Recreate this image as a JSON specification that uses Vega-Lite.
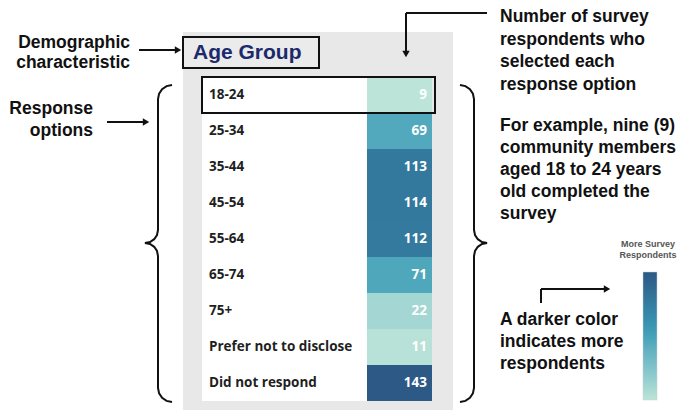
{
  "$schema": "https://vega.github.io/schema/vega-lite/v6.json",
  "width": 681,
  "height": 410,
  "padding": 0,
  "autosize": {"type": "none"},
  "background": "white",
  "config": {
    "view": {"stroke": null},
    "axis": {"disable": true},
    "text": {"font": "Liberation Sans", "fontWeight": "bold", "fontSize": 17.5, "color": "#111111"}
  },
  "datasets": {
    "ages": [
      {"group": "18-24", "respondents": 9},
      {"group": "25-34", "respondents": 69},
      {"group": "35-44", "respondents": 113},
      {"group": "45-54", "respondents": 114},
      {"group": "55-64", "respondents": 112},
      {"group": "65-74", "respondents": 71},
      {"group": "75+", "respondents": 22},
      {"group": "Prefer not to disclose", "respondents": 11},
      {"group": "Did not respond", "respondents": 143}
    ],
    "braces": [
      {"side": "left", "k": 0, "bx": 172, "by": 85},
      {"side": "left", "k": 1, "bx": 166.6, "by": 86.1},
      {"side": "left", "k": 2, "bx": 162.1, "by": 89.1},
      {"side": "left", "k": 3, "bx": 159.1, "by": 93.6},
      {"side": "left", "k": 4, "bx": 158, "by": 99},
      {"side": "left", "k": 5, "bx": 158, "by": 230},
      {"side": "left", "k": 6, "bx": 157, "by": 235},
      {"side": "left", "k": 7, "bx": 154.2, "by": 239.2},
      {"side": "left", "k": 8, "bx": 150, "by": 242},
      {"side": "left", "k": 9, "bx": 145, "by": 243},
      {"side": "left", "k": 10, "bx": 150, "by": 244},
      {"side": "left", "k": 11, "bx": 154.2, "by": 246.8},
      {"side": "left", "k": 12, "bx": 157, "by": 251},
      {"side": "left", "k": 13, "bx": 158, "by": 256},
      {"side": "left", "k": 14, "bx": 158, "by": 388},
      {"side": "left", "k": 15, "bx": 159.1, "by": 393.4},
      {"side": "left", "k": 16, "bx": 162.1, "by": 397.9},
      {"side": "left", "k": 17, "bx": 166.6, "by": 400.9},
      {"side": "left", "k": 18, "bx": 172, "by": 402},
      {"side": "right", "k": 0, "bx": 460, "by": 85},
      {"side": "right", "k": 1, "bx": 465.4, "by": 86.1},
      {"side": "right", "k": 2, "bx": 469.9, "by": 89.1},
      {"side": "right", "k": 3, "bx": 472.9, "by": 93.6},
      {"side": "right", "k": 4, "bx": 474, "by": 99},
      {"side": "right", "k": 5, "bx": 474, "by": 230},
      {"side": "right", "k": 6, "bx": 475, "by": 235},
      {"side": "right", "k": 7, "bx": 477.8, "by": 239.2},
      {"side": "right", "k": 8, "bx": 482, "by": 242},
      {"side": "right", "k": 9, "bx": 487, "by": 243},
      {"side": "right", "k": 10, "bx": 482, "by": 244},
      {"side": "right", "k": 11, "bx": 477.8, "by": 246.8},
      {"side": "right", "k": 12, "bx": 475, "by": 251},
      {"side": "right", "k": 13, "bx": 474, "by": 256},
      {"side": "right", "k": 14, "bx": 474, "by": 388},
      {"side": "right", "k": 15, "bx": 472.9, "by": 393.4},
      {"side": "right", "k": 16, "bx": 469.9, "by": 397.9},
      {"side": "right", "k": 17, "bx": 465.4, "by": 400.9},
      {"side": "right", "k": 18, "bx": 460, "by": 402}
    ]
  },
  "resolve": {"scale": {"y": "independent"}},
  "layer": [
    {
      "description": "Canvas layer: grey panel, heading box and callouts",
      "layer": [
        {
          "data": {"values": [{}]},
          "mark": {"type": "rect", "fill": "#e8e8e8"},
          "encoding": {
            "x": {"datum": 183, "type": "quantitative", "scale": {"domain": [0, 681], "range": [0, 681], "nice": false, "zero": false}},
            "x2": {"datum": 453},
            "y": {"datum": 32, "type": "quantitative", "scale": {"domain": [0, 410], "range": [0, 410], "nice": false, "zero": false}},
            "y2": {"datum": 410}
          }
        },
        {
          "data": {"values": [{}]},
          "mark": {"type": "rect", "fill": "#ebebeb", "stroke": "#111111", "strokeWidth": 2},
          "encoding": {
            "x": {"datum": 183, "type": "quantitative"},
            "x2": {"datum": 319},
            "y": {"datum": 37, "type": "quantitative"},
            "y2": {"datum": 68}
          }
        },
        {
          "data": {"values": [{}]},
          "mark": {"type": "text", "text": "Age Group", "align": "left", "baseline": "middle", "fontSize": 21, "color": "#1b2a6b"},
          "encoding": {
            "x": {"datum": 193, "type": "quantitative"},
            "y": {"datum": 53, "type": "quantitative"}
          }
        },
        {
          "data": {"values": [{}]},
          "mark": {"type": "text", "text": ["Demographic", "characteristic"], "align": "right", "baseline": "middle", "lineHeight": 20},
          "encoding": {
            "x": {"datum": 130, "type": "quantitative"},
            "y": {"datum": 43, "type": "quantitative"}
          }
        },
        {
          "data": {"values": [{}]},
          "mark": {"type": "text", "text": ["Response", "options"], "align": "right", "baseline": "middle", "lineHeight": 22},
          "encoding": {
            "x": {"datum": 93, "type": "quantitative"},
            "y": {"datum": 109, "type": "quantitative"}
          }
        },
        {
          "data": {"values": [{}]},
          "mark": {"type": "text", "text": ["Number of survey", "respondents who", "selected each", "response option"], "align": "left", "baseline": "middle", "lineHeight": 22.5},
          "encoding": {
            "x": {"datum": 500, "type": "quantitative"},
            "y": {"datum": 17, "type": "quantitative"}
          }
        },
        {
          "data": {"values": [{}]},
          "mark": {"type": "text", "text": ["For example, nine (9)", "community members", "aged 18 to 24 years", "old completed the", "survey"], "align": "left", "baseline": "middle", "lineHeight": 22},
          "encoding": {
            "x": {"datum": 500, "type": "quantitative"},
            "y": {"datum": 126, "type": "quantitative"}
          }
        },
        {
          "data": {"values": [{}]},
          "mark": {"type": "text", "text": ["A darker color", "indicates more", "respondents"], "align": "left", "baseline": "middle", "lineHeight": 22},
          "encoding": {
            "x": {"datum": 500, "type": "quantitative"},
            "y": {"datum": 320, "type": "quantitative"}
          }
        },
        {
          "data": {"values": [{}]},
          "mark": {"type": "text", "text": ["More Survey", "Respondents"], "align": "center", "baseline": "middle", "lineHeight": 11, "fontSize": 9, "color": "#555555"},
          "encoding": {
            "x": {"datum": 648, "type": "quantitative"},
            "y": {"datum": 244, "type": "quantitative"}
          }
        },
        {
          "data": {"values": [
            {"from_x": 139, "to_x": 175, "from_y": 50, "to_y": 50},
            {"from_x": 107, "to_x": 143, "from_y": 122, "to_y": 122},
            {"from_x": 406, "to_x": 487, "from_y": 13, "to_y": 13},
            {"from_x": 406, "to_x": 406, "from_y": 13, "to_y": 51},
            {"from_x": 541, "to_x": 541, "from_y": 289, "to_y": 303},
            {"from_x": 541, "to_x": 604, "from_y": 289, "to_y": 289}
          ]},
          "mark": {"type": "rule", "stroke": "#111111", "strokeWidth": 2},
          "encoding": {
            "x": {"field": "from_x", "type": "quantitative"},
            "x2": {"field": "to_x"},
            "y": {"field": "from_y", "type": "quantitative"},
            "y2": {"field": "to_y"}
          }
        },
        {
          "data": {"values": [
            {"hx": 178, "hy": 50, "dir": "triangle-right"},
            {"hx": 146, "hy": 122, "dir": "triangle-right"},
            {"hx": 607, "hy": 289, "dir": "triangle-right"},
            {"hx": 406, "hy": 54, "dir": "triangle-down"}
          ]},
          "mark": {"type": "point", "filled": true, "fill": "#111111", "opacity": 1, "size": 55, "strokeWidth": 0},
          "encoding": {
            "x": {"field": "hx", "type": "quantitative"},
            "y": {"field": "hy", "type": "quantitative"},
            "shape": {"field": "dir", "type": "nominal", "scale": null}
          }
        },
        {
          "data": {"name": "braces"},
          "mark": {"type": "line", "stroke": "#111111", "strokeWidth": 2, "interpolate": "linear"},
          "encoding": {
            "x": {"field": "bx", "type": "quantitative"},
            "y": {"field": "by", "type": "quantitative"},
            "detail": {"field": "side"},
            "order": {"field": "k", "type": "quantitative"}
          }
        }
      ]
    },
    {
      "description": "Heat table of respondents per age group",
      "data": {"name": "ages"},
      "layer": [
        {
          "mark": {"type": "rect", "fill": "white"},
          "encoding": {
            "x": {"datum": 202, "type": "quantitative"},
            "x2": {"datum": 367},
            "y": {"field": "group", "type": "nominal", "sort": null, "scale": {"type": "band", "range": [77, 401], "paddingInner": 0, "paddingOuter": 0}}
          }
        },
        {
          "mark": {"type": "rect"},
          "encoding": {
            "x": {"datum": 367, "type": "quantitative"},
            "x2": {"datum": 432},
            "y": {"field": "group", "type": "nominal", "sort": null},
            "color": {
              "field": "respondents",
              "type": "quantitative",
              "scale": {"scheme": "tealblues", "nice": false},
              "legend": {
                "orient": "none",
                "legendX": 643,
                "legendY": 272,
                "direction": "vertical",
                "title": null,
                "gradientLength": 128,
                "gradientThickness": 14,
                "gradientStrokeColor": "#cccccc",
                "gradientStrokeWidth": 0.5,
                "labelOpacity": 0,
                "labelExpr": "''",
                "padding": 0
              }
            }
          }
        },
        {
          "mark": {"type": "text", "align": "left", "baseline": "middle", "font": "Open Sans", "fontSize": 13.5, "color": "#1f1f1f"},
          "encoding": {
            "x": {"datum": 209, "type": "quantitative"},
            "y": {"field": "group", "type": "nominal", "sort": null},
            "text": {"field": "group"}
          }
        },
        {
          "mark": {"type": "text", "align": "right", "baseline": "middle", "font": "Open Sans", "fontSize": 13.5, "color": "white"},
          "encoding": {
            "x": {"datum": 427, "type": "quantitative"},
            "y": {"field": "group", "type": "nominal", "sort": null},
            "text": {"field": "respondents"}
          }
        },
        {
          "transform": [{"filter": "datum.group === '18-24'"}],
          "mark": {"type": "rect", "fill": null, "fillOpacity": 0, "stroke": "#111111", "strokeWidth": 2},
          "encoding": {
            "x": {"datum": 202, "type": "quantitative"},
            "x2": {"datum": 435},
            "y": {"field": "group", "type": "nominal", "sort": null}
          }
        }
      ]
    }
  ]
}
